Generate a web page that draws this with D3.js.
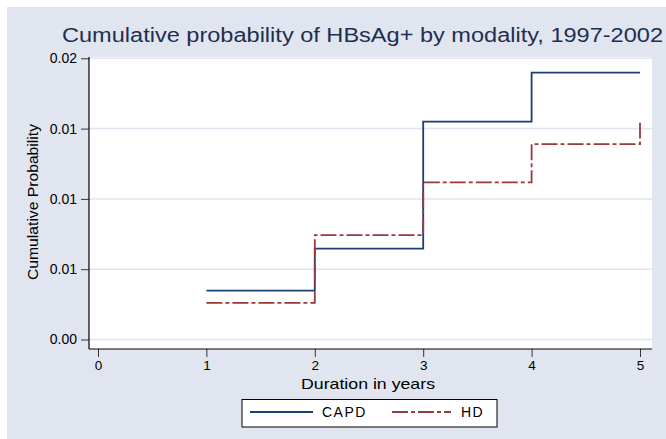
<!DOCTYPE html>
<html>
<head>
<meta charset="utf-8">
<script src="https://cdn.jsdelivr.net/npm/d3@7"></script>
<style>
  html, body { margin: 0; padding: 0; background: #ffffff; }
  svg { display: block; }
  text { font-family: "Liberation Sans", Arial, Helvetica, sans-serif; }
</style>
</head>
<body>
<div id="chart"></div>
<script>
// ---- data ----
const years = [1, 2, 3, 4, 5];
const capd = [0.00347, 0.00647, 0.01549, 0.01898, 0.01898];
const hd = [0.00260, 0.00743, 0.01118, 0.01390, 0.01542];
const seriesNames = ["CAPD", "HD"];
const xTicks = [0, 1, 2, 3, 4, 5];
const yTicks = [0, 0.005, 0.01, 0.015, 0.02];
const yTickLabels = ["0.00", "0.01", "0.01", "0.01", "0.02"];
const titleText = "Cumulative probability of HBsAg+ by modality, 1997-2002";
const xTitle = "Duration in years";
const yTitle = "Cumulative Probability";

const W = 666, H = 439;
const bg = "#e0e5ef";
const colors = ["#1a3f73", "#963a40"];

const svg = d3.select("#chart").append("svg").attr("width", W).attr("height", H);

// outer background with white margin at top/left
svg.append("rect").attr("x", 0).attr("y", 0).attr("width", W).attr("height", H).attr("fill", "#ffffff");
svg.append("rect").attr("x", 7).attr("y", 7).attr("width", W - 7).attr("height", H - 7).attr("fill", bg);

// plot region
const plot = { left: 89, right: 652, top: 57, bottom: 349 };
svg.append("rect").attr("x", plot.left).attr("y", plot.top)
  .attr("width", plot.right - plot.left).attr("height", plot.bottom - plot.top)
  .attr("fill", "#ffffff");

const x = d3.scaleLinear().domain([0, 5]).range([98, 640]);
const y = d3.scaleLinear().domain([0, 0.02]).range([339.5, 58.3]);

// gridlines
svg.append("g").selectAll("line").data(yTicks).join("line")
  .attr("x1", plot.left).attr("x2", plot.right)
  .attr("y1", d => y(d)).attr("y2", d => y(d))
  .attr("stroke", "#dfe4f0").attr("stroke-width", 1.5);

// y axis
const yAxis = d3.axisLeft(y).tickValues(yTicks)
  .tickFormat((d, i) => yTickLabels[i]).tickSize(8).tickPadding(4);
const gy = svg.append("g").attr("transform", `translate(${plot.left},0)`).call(yAxis);
gy.select(".domain").remove();
gy.append("line").attr("x1", 0).attr("x2", 0).attr("y1", plot.top).attr("y2", plot.bottom)
  .attr("stroke", "#000").attr("stroke-width", 1.2);
gy.selectAll(".tick line").attr("stroke", "#333").attr("stroke-width", 1);
gy.selectAll(".tick text").attr("font-size", 14).attr("fill", "#000")
  .attr("font-family", "'Liberation Sans', Arial, sans-serif");

// x axis
const xAxis = d3.axisBottom(x).tickValues(xTicks).tickFormat(d3.format("d")).tickSize(8).tickPadding(3);
const gx = svg.append("g").attr("transform", `translate(0,${plot.bottom})`).call(xAxis);
gx.select(".domain").remove();
gx.append("line").attr("x1", plot.left).attr("x2", plot.right).attr("y1", 0).attr("y2", 0)
  .attr("stroke", "#000").attr("stroke-width", 1.2);
gx.selectAll(".tick line").attr("stroke", "#333").attr("stroke-width", 1);
gx.selectAll(".tick text").attr("font-size", 13.5).attr("fill", "#000")
  .attr("font-family", "'Liberation Sans', Arial, sans-serif");

// lines
const line = d3.line().x((d, i) => x(years[i])).y(d => y(d)).curve(d3.curveStepAfter);
const dashes = [null, "16,3,4,3"];
[capd, hd].forEach((s, k) => {
  svg.append("path").datum(s).attr("d", line)
    .attr("fill", "none").attr("stroke", colors[k]).attr("stroke-width", 1.8)
    .attr("stroke-dasharray", dashes[k]);
});

// title
svg.append("text").attr("x", 62).attr("y", 42).attr("font-size", 20)
  .attr("fill", "#1f2f4f").attr("textLength", 601).attr("lengthAdjust", "spacingAndGlyphs")
  .text(titleText);

// axis titles
svg.append("text").attr("x", 301).attr("y", 388.5)
  .attr("font-size", 15).attr("fill", "#000")
  .attr("textLength", 134).attr("lengthAdjust", "spacingAndGlyphs").text(xTitle);
svg.append("text").attr("transform", "translate(38,280) rotate(-90)")
  .attr("font-size", 14).attr("fill", "#000")
  .attr("textLength", 156).attr("lengthAdjust", "spacingAndGlyphs").text(yTitle);

// legend
const lg = svg.append("g");
lg.append("rect").attr("x", 242).attr("y", 399.5).attr("width", 255).attr("height", 27.5)
  .attr("fill", "#ffffff").attr("stroke", "#000").attr("stroke-width", 1);
const legendItems = [
  { x1: 250, x2: 313, tx: 322 },
  { x1: 392, x2: 451, tx: 461 }
];
legendItems.forEach((it, k) => {
  lg.append("line").attr("x1", it.x1).attr("x2", it.x2).attr("y1", 412).attr("y2", 412)
    .attr("stroke", colors[k]).attr("stroke-width", 1.8).attr("stroke-dasharray", dashes[k]);
  lg.append("text").attr("x", it.tx).attr("y", 417).attr("font-size", 14)
    .attr("letter-spacing", 1.5).attr("fill", "#000").text(seriesNames[k]);
});
</script>
</body>
</html>
